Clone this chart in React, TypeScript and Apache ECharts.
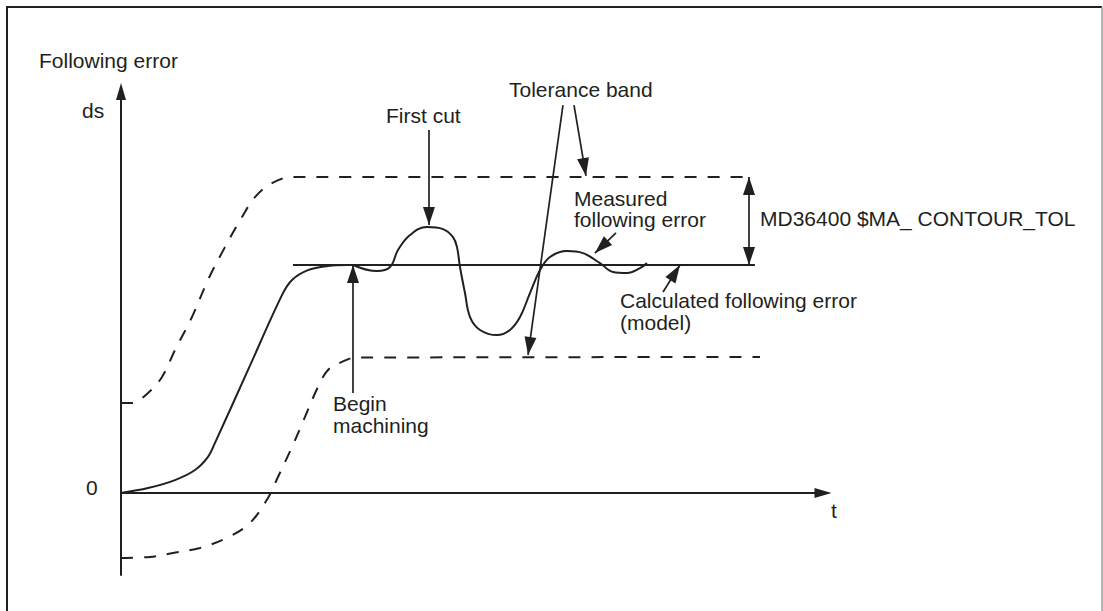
import React, { useEffect, useRef } from "react";
import * as echarts from "echarts";

// ---- data (t in time units, ds in following-error units) ----
const modelRampT = [0, 3.85, 7.69, 10.54, 12.39, 13.39, 18.16, 22.93, 24.36, 26.64, 29.49, 32.34];
const modelRampV = [0, 0.24, 0.63, 1.12, 1.76, 2.44, 6.05, 9.65, 10.39, 10.87, 11.07, 11.12];
const modelFlatT = [24.5, 90.3];
const modelFlatV = [11.12, 11.12];

const measuredT = [33.05, 36.47, 38.32, 39.46, 41.17, 43.59, 45.87, 47.29, 47.86, 48.29, 49.0, 49.72, 51.14, 53.56, 55.41, 56.84, 58.26, 59.69, 61.11, 63.53, 65.81, 68.23, 70.09, 72.08, 73.93, 74.93];
const measuredV = [11.12, 10.82, 11.02, 11.85, 12.58, 12.97, 12.87, 12.48, 11.99, 11.02, 9.75, 8.58, 7.95, 7.7, 7.95, 8.58, 9.75, 10.87, 11.51, 11.8, 11.7, 11.21, 10.78, 10.73, 10.97, 11.21];

const upperTolT = [0, 1.57, 3.85, 5.84, 7.69, 10.11, 12.39, 14.81, 17.24, 19.09, 21.51, 24.36, 90.03];
const upperTolV = [4.39, 4.39, 4.88, 5.66, 6.97, 8.58, 10.39, 11.99, 13.46, 14.43, 15.11, 15.41, 15.41];

const lowerTolT = [0, 4.13, 7.41, 11.25, 15.1, 18.38, 20.94, 22.36, 24.36, 26.21, 28.06, 29.49, 31.48, 33.33, 91.03];
const lowerTolV = [-3.17, -3.12, -2.93, -2.68, -2.19, -1.46, -0.24, 0.78, 2.24, 3.71, 5.17, 6.0, 6.39, 6.6, 6.63];

// annotation arrows: [tail], [tip]
const firstCutArrow = [[43.87, 17.7], [43.87, 13.07]];
const tolBandArrowLow = [[62.96, 18.92], [57.98, 6.73]];
const tolBandArrowHigh = [[64.53, 18.92], [66.24, 15.46]];
const measuredArrow = [[70.51, 12.68], [67.52, 11.7]];
const calculatedArrow = [[77.21, 9.8], [79.63, 11.12]];
const beginArrow = [[33.05, 4.88], [33.05, 11.12]];
const contourTolArrow = [[89.46, 15.41], [89.46, 11.12]];

const labels = {
  yTitle: "Following error",
  yName: "ds",
  yZero: "0",
  xName: "t",
  firstCut: "First cut",
  tolBand: "Tolerance band",
  measured: ["Measured", "following error"],
  contourTol: "MD36400 $MA_ CONTOUR_TOL",
  calculated: ["Calculated following error", "(model)"],
  begin: ["Begin", "machining"],
};

const INK = "#231f20";
const FONT = "Liberation Sans, Arial, Helvetica, sans-serif";
const ARROW = "path://M5,0L10,17L0,17Z";
const HEAD_SIZE = [12, 18];
const HEAD_OFFSET = [0, 9];

const zip = (a: number[], b: number[]) => a.map((v, i) => [v, b[i]]);

function text(str: string, x: number, y: number) {
  return {
    type: "text",
    x,
    y,
    silent: true,
    style: {
      text: str,
      fill: INK,
      font: `21px ${FONT}`,
      textAlign: "left",
      textVerticalAlign: "middle",
      verticalAlign: "middle",
    },
  };
}

function arrowLine(pair: number[][], both = false) {
  return [
    {
      coord: pair[0],
      symbol: both ? ARROW : "none",
      symbolSize: HEAD_SIZE,
      symbolOffset: HEAD_OFFSET,
    },
    {
      coord: pair[1],
      symbol: ARROW,
      symbolSize: HEAD_SIZE,
      symbolOffset: HEAD_OFFSET,
    },
  ];
}

export default function App() {
  const ref = useRef<HTMLDivElement>(null);
  useEffect(() => {
    if (!ref.current) return;
    const chart = echarts.init(ref.current, null, { renderer: "svg" });
    const lineBase = {
      type: "line",
      showSymbol: false,
      symbol: "none",
      silent: true,
      animation: false,
      clip: false,
    };
    chart.setOption({
      animation: false,
      backgroundColor: "#ffffff",
      textStyle: { fontFamily: FONT },
      grid: { left: 121, top: 91.5, width: 702, height: 483.5, containLabel: false },
      xAxis: {
        type: "value",
        min: 0,
        max: 100,
        axisLine: {
          show: true,
          onZero: true,
          symbol: ["none", ARROW],
          symbolSize: [11, 17],
          lineStyle: { color: INK, width: 2 },
        },
        axisTick: { show: false },
        axisLabel: { show: false },
        splitLine: { show: false },
      },
      yAxis: {
        type: "value",
        min: -4,
        max: 19.58,
        axisLine: {
          show: true,
          onZero: true,
          symbol: ["none", ARROW],
          symbolSize: [11, 17],
          lineStyle: { color: INK, width: 2 },
        },
        axisTick: { show: false },
        axisLabel: { show: false },
        splitLine: { show: false },
      },
      graphic: [
        { type: "line", shape: { x1: 7, y1: 7, x2: 7, y2: 611 }, style: { stroke: INK, lineWidth: 2 }, silent: true },
        { type: "line", shape: { x1: 6, y1: 7, x2: 1102, y2: 7 }, style: { stroke: INK, lineWidth: 2 }, silent: true },
        { type: "line", shape: { x1: 1102, y1: 7, x2: 1102, y2: 611 }, style: { stroke: "#9a9a9a", lineWidth: 1.5 }, silent: true },
        text(labels.yTitle, 39, 60.5),
        text(labels.yName, 82, 110.5),
        text(labels.yZero, 86, 487.5),
        text(labels.xName, 831, 510.5),
        text(labels.firstCut, 386, 115.5),
        text(labels.tolBand, 509, 89.5),
        text(labels.measured[0], 574, 198.5),
        text(labels.measured[1], 574, 219.5),
        text(labels.contourTol, 760, 218.5),
        text(labels.calculated[0], 620, 300.5),
        text(labels.calculated[1], 620, 322),
        text(labels.begin[0], 333, 403.5),
        text(labels.begin[1], 333, 425.5),
      ],
      series: [
        {
          ...lineBase,
          name: "model ramp",
          smooth: 0.35,
          data: zip(modelRampT, modelRampV),
          lineStyle: { color: INK, width: 2 },
        },
        {
          ...lineBase,
          name: "model",
          data: zip(modelFlatT, modelFlatV),
          lineStyle: { color: INK, width: 2 },
          markLine: {
            silent: true,
            animation: false,
            symbol: ["none", ARROW],
            symbolSize: 18,
            label: { show: false },
            emphasis: { disabled: true },
            lineStyle: { color: INK, width: 1.7, type: "solid" },
            data: [
              arrowLine(firstCutArrow),
              arrowLine(tolBandArrowLow),
              arrowLine(tolBandArrowHigh),
              arrowLine(measuredArrow),
              arrowLine(calculatedArrow),
              arrowLine(beginArrow),
              arrowLine(contourTolArrow, true),
            ],
          },
        },
        {
          ...lineBase,
          name: "measured",
          smooth: 0.4,
          data: zip(measuredT, measuredV),
          lineStyle: { color: INK, width: 2 },
        },
        {
          ...lineBase,
          name: "upper tolerance",
          smooth: 0.35,
          data: zip(upperTolT, upperTolV),
          lineStyle: { color: INK, width: 2, type: [12, 11] },
        },
        {
          ...lineBase,
          name: "lower tolerance",
          smooth: 0.35,
          data: zip(lowerTolT, lowerTolV),
          lineStyle: { color: INK, width: 2, type: [12, 11] },
        },
      ],
    });
    return () => chart.dispose();
  }, []);
  return (
    <div
      ref={ref}
      style={{ position: "fixed", left: 0, top: 0, width: 1103, height: 611, background: "#fff" }}
    />
  );
}
